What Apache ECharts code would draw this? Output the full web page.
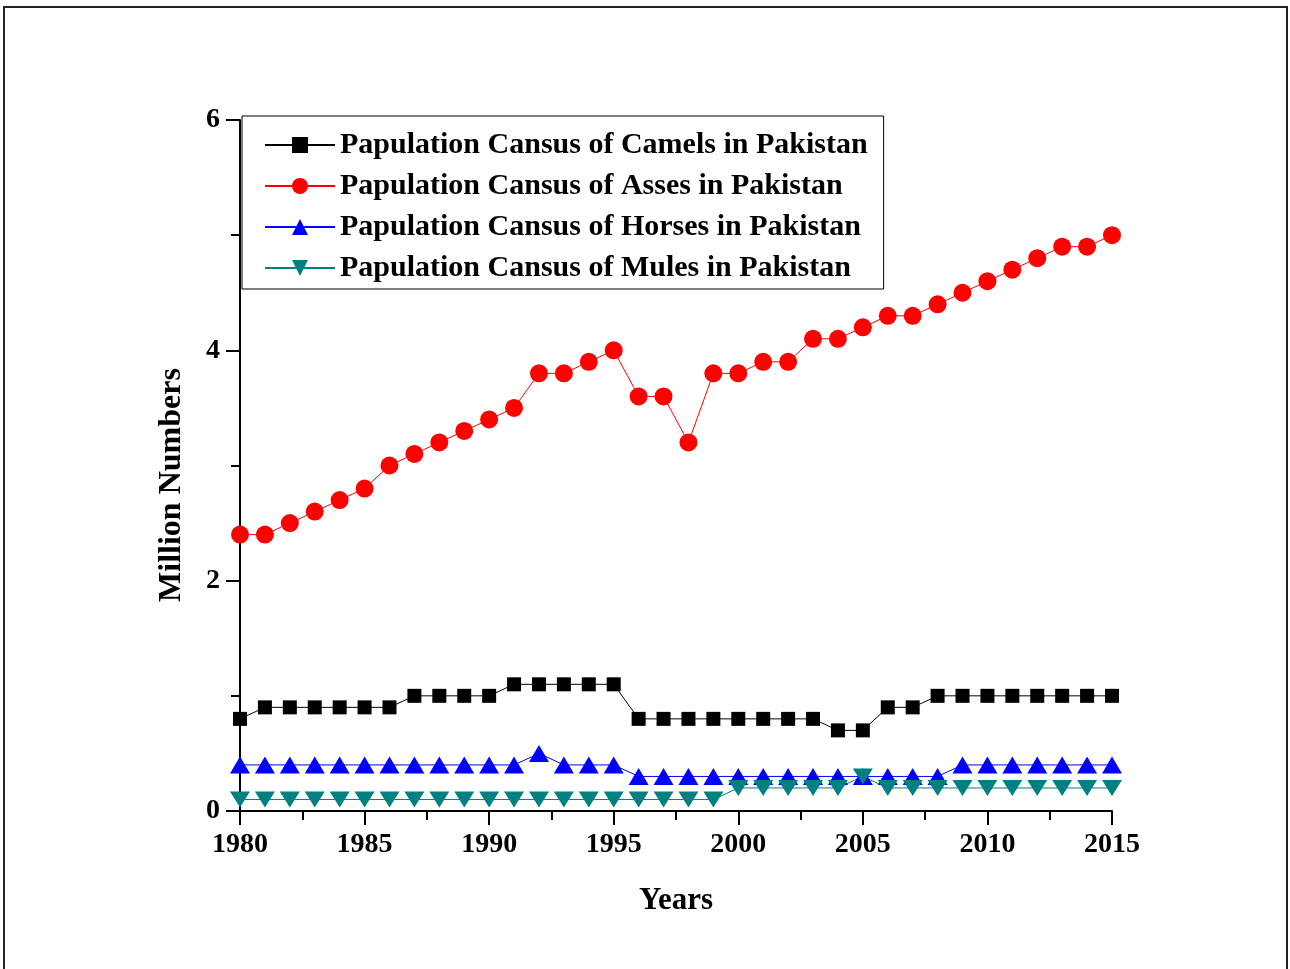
<!DOCTYPE html>
<html>
<head>
<meta charset="utf-8">
<script src="https://cdn.jsdelivr.net/npm/echarts@6/dist/echarts.min.js"></script>
<style>
  html, body { margin: 0; padding: 0; background: #fff; }
  #chart { width: 1290px; height: 969px; }
</style>
</head>
<body>
<div id="chart"></div>
<script>
// data (million head)
const years = [1980, 1981, 1982, 1983, 1984, 1985, 1986, 1987, 1988, 1989,
  1990, 1991, 1992, 1993, 1994, 1995, 1996, 1997, 1998, 1999,
  2000, 2001, 2002, 2003, 2004, 2005, 2006, 2007, 2008, 2009,
  2010, 2011, 2012, 2013, 2014, 2015];
const camels = [0.8, 0.9, 0.9, 0.9, 0.9, 0.9, 0.9, 1.0, 1.0, 1.0,
  1.0, 1.1, 1.1, 1.1, 1.1, 1.1, 0.8, 0.8, 0.8, 0.8,
  0.8, 0.8, 0.8, 0.8, 0.7, 0.7, 0.9, 0.9, 1.0, 1.0,
  1.0, 1.0, 1.0, 1.0, 1.0, 1.0];
const asses = [2.4, 2.4, 2.5, 2.6, 2.7, 2.8, 3.0, 3.1, 3.2, 3.3,
  3.4, 3.5, 3.8, 3.8, 3.9, 4.0, 3.6, 3.6, 3.2, 3.8,
  3.8, 3.9, 3.9, 4.1, 4.1, 4.2, 4.3, 4.3, 4.4, 4.5,
  4.6, 4.7, 4.8, 4.9, 4.9, 5.0];
const horses = [0.4, 0.4, 0.4, 0.4, 0.4, 0.4, 0.4, 0.4, 0.4, 0.4,
  0.4, 0.4, 0.5, 0.4, 0.4, 0.4, 0.3, 0.3, 0.3, 0.3,
  0.3, 0.3, 0.3, 0.3, 0.3, 0.3, 0.3, 0.3, 0.3, 0.4,
  0.4, 0.4, 0.4, 0.4, 0.4, 0.4];
const mules = [0.1, 0.1, 0.1, 0.1, 0.1, 0.1, 0.1, 0.1, 0.1, 0.1,
  0.1, 0.1, 0.1, 0.1, 0.1, 0.1, 0.1, 0.1, 0.1, 0.1,
  0.2, 0.2, 0.2, 0.2, 0.2, 0.3, 0.2, 0.2, 0.2, 0.2,
  0.2, 0.2, 0.2, 0.2, 0.2, 0.2];
const names = [
  'Papulation Cansus of Camels in Pakistan',
  'Papulation Cansus of Asses in Pakistan',
  'Papulation Cansus of Horses in Pakistan',
  'Papulation Cansus of Mules in Pakistan'
];

const font = '"Liberation Serif", "Times New Roman", serif';

function pairs(vals) {
  return years.map((y, i) => [y, vals[i]]);
}

function line(name, vals, color, symbol, size) {
  return {
    name: name,
    type: 'line',
    data: pairs(vals),
    symbol: symbol,
    symbolSize: size,
    color: color,
    lineStyle: { color: color, width: 1 },
    itemStyle: { color: color },
    emphasis: { disabled: true },
    z: 3
  };
}

const chart = echarts.init(document.getElementById('chart'));
chart.setOption({
  animation: false,
  backgroundColor: '#fff',
  grid: { left: 240, right: 178, top: 120, bottom: 158 },
  legend: {
    orient: 'vertical',
    left: 242,
    top: 116,
    padding: [14, 16, 6, 22],
    itemGap: 11,
    itemWidth: 70,
    itemHeight: 20,
    borderColor: '#000',
    borderWidth: 1,
    backgroundColor: '#fff',
    textStyle: { fontFamily: font, fontWeight: 'bold', fontSize: 30, color: '#000' },
    data: names
  },
  xAxis: {
    type: 'value',
    min: 1980,
    max: 2015,
    interval: 5,
    name: 'Years',
    nameLocation: 'middle',
    nameGap: 74,
    nameTextStyle: { fontFamily: font, fontWeight: 'bold', fontSize: 31, color: '#000' },
    axisLine: { show: true, lineStyle: { color: '#000', width: 2 } },
    axisTick: { show: true, length: 14, lineStyle: { color: '#000', width: 2 } },
    minorTick: { show: true, splitNumber: 2, length: 9, lineStyle: { color: '#000', width: 2 } },
    axisLabel: {
      margin: 20,
      fontFamily: font, fontWeight: 'bold', fontSize: 28, color: '#000',
      formatter: v => String(v)
    },
    splitLine: { show: false }
  },
  yAxis: {
    type: 'value',
    min: 0,
    max: 6,
    interval: 2,
    axisLine: { show: true, lineStyle: { color: '#000', width: 2 } },
    axisTick: { show: true, length: 14, lineStyle: { color: '#000', width: 2 } },
    minorTick: { show: true, splitNumber: 2, length: 9, lineStyle: { color: '#000', width: 2 } },
    axisLabel: { margin: 20, fontFamily: font, fontWeight: 'bold', fontSize: 28, color: '#000' },
    splitLine: { show: false }
  },
  graphic: [
    {
      type: 'rect',
      shape: { x: 4, y: 7, width: 1283, height: 975 },
      style: { fill: 'none', stroke: '#222', lineWidth: 2 },
      z: -1
    },
    {
      type: 'text',
      x: 172,
      y: 485,
      rotation: Math.PI / 2,
      style: {
        text: 'Million Numbers',
        fontFamily: font,
        fontWeight: 'bold',
        fontSize: 32,
        fill: '#000',
        align: 'center',
        verticalAlign: 'middle'
      }
    }
  ],
  series: [
    line(names[0], camels, '#000000', 'rect', 14),
    line(names[1], asses, '#ff0000', 'circle', 18),
    line(names[2], horses, '#0000ff', 'triangle', [20, 17]),
    line(names[3], mules, '#008080', 'path://M0,0 L10,0 L5,9 Z', [20, 16])
  ]
});
</script>
</body>
</html>
